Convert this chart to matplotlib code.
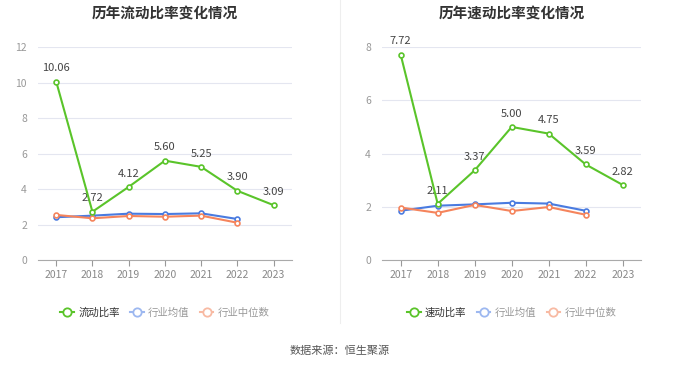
import matplotlib.pyplot as plt
from matplotlib.lines import Line2D

plt.rcParams['font.family'] = ['Noto Sans CJK SC', 'DejaVu Sans']

years = ['2017', '2018', '2019', '2020', '2021', '2022', '2023']

current_ratio = [10.06, 2.72, 4.12, 5.60, 5.25, 3.90, 3.09]
current_avg = [2.41, 2.50, 2.61, 2.59, 2.63, 2.31]
current_median = [2.54, 2.35, 2.48, 2.44, 2.50, 2.10]

quick_ratio = [7.72, 2.11, 3.37, 5.00, 4.75, 3.59, 2.82]
quick_avg = [1.85, 2.04, 2.09, 2.15, 2.12, 1.85]
quick_median = [1.97, 1.77, 2.07, 1.84, 1.99, 1.70]

GREEN = '#5ac42a'
BLUE = '#4a7be0'
ORANGE = '#f5845c'


def draw(ax, title, main, avg, med, ymax, name):
    x = list(range(len(years)))
    ax.plot(x[:len(avg)], avg, color=BLUE, lw=1.5, marker='o', ms=3.5,
            mfc='white', mec=BLUE, mew=1.2, zorder=3)
    ax.plot(x[:len(med)], med, color=ORANGE, lw=1.5, marker='o', ms=3.5,
            mfc='white', mec=ORANGE, mew=1.2, zorder=3)
    ax.plot(x, main, color=GREEN, lw=1.5, marker='o', ms=3.5,
            mfc='white', mec=GREEN, mew=1.2, zorder=4)
    for xi, v in zip(x, main):
        ax.annotate(f'{v:.2f}', (xi, v), xytext=(0, 6), textcoords='offset points',
                    ha='center', va='bottom', fontsize=8, color='#444444')
    ax.set_xlim(-0.5, len(years) - 0.5)
    ax.set_ylim(0, ymax)
    ax.set_yticks(range(0, ymax + 1, 2))
    ax.set_xticks(x)
    ax.set_xticklabels(years)
    ax.tick_params(axis='y', length=0, labelsize=7.5, labelcolor='#999999', pad=8)
    ax.tick_params(axis='x', length=4, color='#999999', labelsize=7.5,
                   labelcolor='#888888')
    ax.grid(axis='y', color='#e4e6f0', lw=0.8)
    ax.set_axisbelow(True)
    for s in ['top', 'right', 'left']:
        ax.spines[s].set_visible(False)
    ax.spines['bottom'].set_color('#aaaaaa')
    ax.set_title(title, fontsize=10.5, fontweight='bold', color='#333333', pad=21)

    handles = [
        Line2D([], [], color=GREEN, lw=1.5, marker='o', ms=6, mfc='white', mec=GREEN, mew=1.3),
        Line2D([], [], color='#9db8f0', lw=1.5, marker='o', ms=6, mfc='white', mec='#9db8f0', mew=1.3),
        Line2D([], [], color='#f8baa3', lw=1.5, marker='o', ms=6, mfc='white', mec='#f8baa3', mew=1.3),
    ]
    leg = ax.legend(handles, [name, '行业均值', '行业中位数'], loc='upper center',
                    bbox_to_anchor=(0.5, -0.18), ncol=3, frameon=False, fontsize=7.5,
                    handlelength=1.3, handletextpad=0.4, columnspacing=1.0)
    cols = ['#333333', '#999999', '#999999']
    for t, c in zip(leg.get_texts(), cols):
        t.set_color(c)


fig = plt.figure(figsize=(6.8, 3.67), dpi=100)
ax1 = fig.add_axes([0.056, 0.2916, 0.373, 0.580])
ax2 = fig.add_axes([0.562, 0.2916, 0.381, 0.580])

draw(ax1, '历年流动比率变化情况', current_ratio, current_avg, current_median, 12, '流动比率')
draw(ax2, '历年速动比率变化情况', quick_ratio, quick_avg, quick_median, 8, '速动比率')

fig.add_artist(Line2D([0.5, 0.5], [0.12, 1.0], color='#eeeeee', lw=0.8))
fig.text(0.5, 0.043, '数据来源：恒生聚源', ha='center', va='center', fontsize=8, color='#555555')

plt.savefig('out.png', dpi=100)
